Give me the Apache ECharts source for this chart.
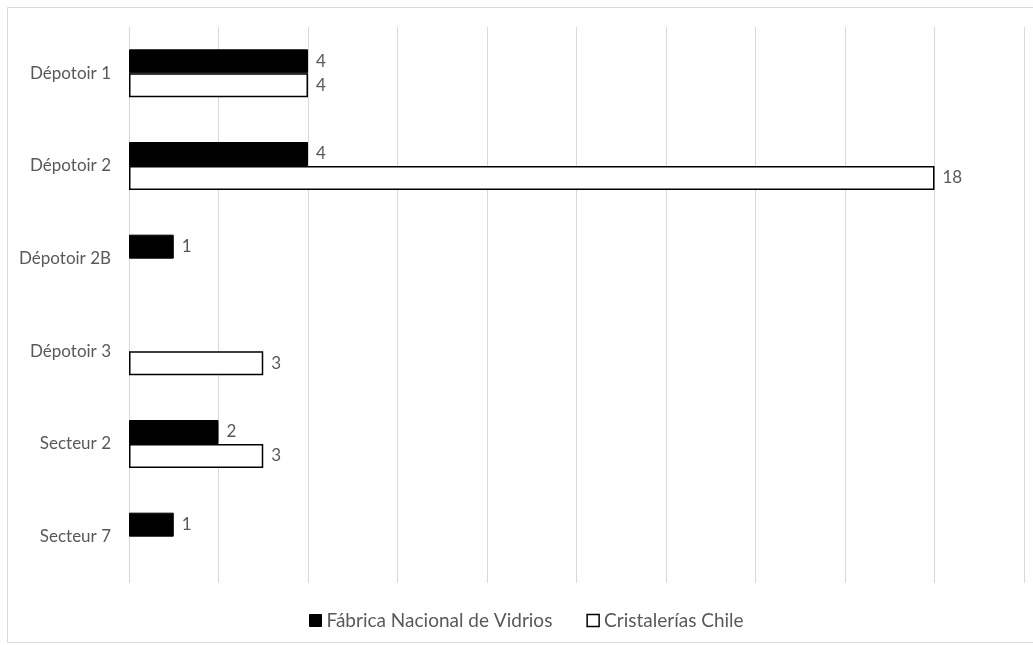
<!DOCTYPE html>
<html>
<head>
<meta charset="utf-8">
<script src="https://cdn.jsdelivr.net/npm/echarts@6/dist/echarts.min.js"></script>
<style>
html,body{margin:0;padding:0;background:#fff;}
#chart{width:1033px;height:645px;}
</style>
</head>
<body>
<div id="chart"></div>
<script>
const categories = ['Dépotoir 1', 'Dépotoir 2', 'Dépotoir 2B', 'Dépotoir 3', 'Secteur 2', 'Secteur 7'];
const fabricaValues = [4, 4, 1, null, 2, 1];
const cristaleriasValues = [4, 18, null, 3, 3, null];
const seriesNames = ['Fábrica Nacional de Vidrios', 'Cristalerías Chile'];

const font = 'Lato, "Open Sans", sans-serif';
const textColor = '#595959';
const chart = echarts.init(document.getElementById('chart'), null, {renderer: 'canvas'});
const labelCfg = {show: true, position: 'right', distance: 8, color: textColor, fontSize: 17, fontFamily: font};
chart.setOption({
  animation: false,
  backgroundColor: '#fff',
  graphic: [{
    type: 'rect', shape: {x: 7.5, y: 7.5, width: 1040, height: 635},
    style: {fill: null, stroke: '#d9d9d9', lineWidth: 1}, silent: true
  }],
  grid: {left: 129, right: 9, top: 27, bottom: 62},
  legend: {
    bottom: 10, left: 304,
    itemWidth: 12, itemHeight: 12, itemGap: 34,
    textStyle: {color: textColor, fontSize: 19, fontFamily: font},
    data: [
      {name: seriesNames[0], icon: 'rect', itemStyle: {color: '#000', borderColor: '#000', borderWidth: 1}},
      {name: seriesNames[1], icon: 'rect', itemStyle: {color: '#fff', borderColor: '#000', borderWidth: 1.5}}
    ]
  },
  xAxis: {
    type: 'value', min: 0, max: 20, interval: 2,
    axisLabel: {show: false}, axisLine: {show: false}, axisTick: {show: false},
    splitLine: {show: true, lineStyle: {color: '#d9d9d9', width: 1}}
  },
  yAxis: {
    type: 'category', data: categories, inverse: true,
    axisLine: {show: false}, axisTick: {show: false},
    axisLabel: {color: textColor, fontSize: 17, fontFamily: font, margin: 18}
  },
  series: [
    {
      name: seriesNames[0], type: 'bar', data: fabricaValues,
      barWidth: 24, barGap: '0%',
      itemStyle: {color: '#000', borderColor: '#000', borderWidth: 1},
      label: labelCfg
    },
    {
      name: seriesNames[1], type: 'bar', data: cristaleriasValues,
      barWidth: 24, barGap: '0%',
      itemStyle: {color: '#fff', borderColor: '#000', borderWidth: 1.5},
      label: labelCfg
    }
  ]
});
</script>
</body>
</html>
